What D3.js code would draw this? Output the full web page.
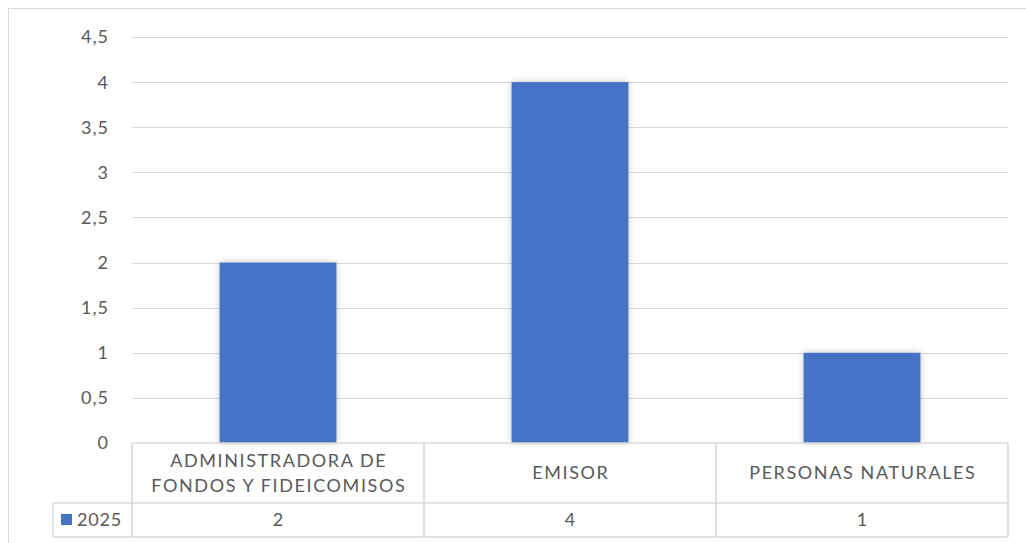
<!DOCTYPE html>
<html>
<head>
<meta charset="utf-8">
<script src="https://cdn.jsdelivr.net/npm/d3@7"></script>
<style>
  body { margin: 0; background: #fff; }
  text { font-family: Lato, "Noto Sans", sans-serif; fill: #595959; }
</style>
</head>
<body>
<div id="chart"></div>
<script>
// chart data
var aCategories = ["ADMINISTRADORA DE FONDOS Y FIDEICOMISOS", "EMISOR", "PERSONAS NATURALES"];
var aValues = [2, 4, 1];
var sSeries = "2025";
var aTicks = [0, 0.5, 1, 1.5, 2, 2.5, 3, 3.5, 4, 4.5];

var iWidth = 1026;
var iHeight = 543;
var iLeft = 132, iRight = 1008, iTop = 37, iBase = 443;
var iRow1 = 503, iRow2 = 537, iLegendX = 53;
var sGrid = "#d9d9d9";
var sBlue = "#4472C4";

var fmt = d3.formatLocale({decimal: ",", thousands: ".", grouping: [3], currency: ["", ""]}).format("~g");

var svg = d3.select("#chart").append("svg")
	.attr("width", iWidth)
	.attr("height", iHeight);

var defs = svg.append("defs");
var filt = defs.append("filter").attr("id", "shadow")
	.attr("x", "-20%").attr("y", "-20%").attr("width", "140%").attr("height", "140%");
filt.append("feDropShadow")
	.attr("dx", 0).attr("dy", 0).attr("stdDeviation", 3)
	.attr("flood-color", "#000").attr("flood-opacity", 0.25);

// outer chart border
svg.append("rect")
	.attr("x", 8.5).attr("y", 8.5)
	.attr("width", iWidth + 20).attr("height", iHeight + 20)
	.attr("fill", "none").attr("stroke", sGrid).attr("stroke-width", 1);

var xScale = d3.scaleBand().domain(aCategories).range([iLeft, iRight])
	.paddingInner(0.6).paddingOuter(0.3);
var yScale = d3.scaleLinear().domain([0, 4.5]).range([iBase, iTop]);

// gridlines
svg.append("g").selectAll("line")
	.data(aTicks.filter(function(t) { return t > 0; }))
	.enter().append("line")
		.attr("x1", iLeft).attr("x2", iRight)
		.attr("y1", function(t) { return Math.round(yScale(t)) + 0.5; })
		.attr("y2", function(t) { return Math.round(yScale(t)) + 0.5; })
		.attr("stroke", sGrid).attr("stroke-width", 1.2);

// y tick labels
svg.append("g").selectAll("text")
	.data(aTicks)
	.enter().append("text")
		.attr("x", 109)
		.attr("y", function(t) { return yScale(t); })
		.attr("dy", "0.36em")
		.attr("text-anchor", "end")
		.style("font-size", "18px")
		.style("letter-spacing", "1px")
		.text(function(t) { return fmt(t); });

// bars
svg.append("g").selectAll("rect")
	.data(aValues)
	.enter().append("rect")
		.attr("x", function(d, i) { return xScale(aCategories[i]); })
		.attr("width", xScale.bandwidth())
		.attr("y", function(d) { return yScale(d); })
		.attr("height", function(d) { return iBase - yScale(d); })
		.attr("fill", sBlue)
		.attr("filter", "url(#shadow)");

// data table lines
var gTable = svg.append("g").attr("stroke", sGrid).attr("stroke-width", 1.6);
gTable.append("line").attr("x1", iLeft).attr("x2", iRight).attr("y1", iBase).attr("y2", iBase);
gTable.append("line").attr("x1", iLegendX).attr("x2", iRight).attr("y1", iRow1).attr("y2", iRow1);
gTable.append("line").attr("x1", iLegendX).attr("x2", iRight).attr("y1", iRow2).attr("y2", iRow2);
gTable.append("line").attr("x1", iLegendX).attr("x2", iLegendX).attr("y1", iRow1).attr("y2", iRow2);
var aCols = aCategories.map(function(c) { return xScale(c) - xScale.step() * xScale.paddingInner() / 2; });
aCols.push(iRight);
gTable.selectAll(".col").data(aCols).enter().append("line")
	.attr("x1", function(d) { return d; }).attr("x2", function(d) { return d; })
	.attr("y1", iBase).attr("y2", iRow2);

// category labels, wrapped
var gCat = svg.append("g");
aCategories.forEach(function(sCat) {
	var cx = xScale(sCat) + xScale.bandwidth() / 2;
	var t = gCat.append("text").attr("text-anchor", "middle")
		.style("font-size", "18px").style("letter-spacing", "1.6px");
	var aWords = sCat.split(" ");
	var aLines = [];
	var sLine = "";
	aWords.forEach(function(w) {
		var sTry = sLine ? sLine + " " + w : w;
		t.text(sTry);
		if (t.node().getComputedTextLength() > 270 && sLine) {
			aLines.push(sLine);
			sLine = w;
		} else {
			sLine = sTry;
		}
	});
	aLines.push(sLine);
	t.text(null);
	var iLineH = 25;
	var y0 = (iBase + iRow1) / 2 - (aLines.length - 1) * iLineH / 2;
	aLines.forEach(function(l, i) {
		t.append("tspan").attr("x", cx + 0.8).attr("y", y0 + i * iLineH).attr("dy", "0.36em").text(l);
	});
});

// values row
svg.append("g").selectAll("text")
	.data(aValues)
	.enter().append("text")
		.attr("x", function(d, i) { return xScale(aCategories[i]) + xScale.bandwidth() / 2; })
		.attr("y", (iRow1 + iRow2) / 2)
		.attr("dy", "0.36em")
		.attr("text-anchor", "middle")
		.style("font-size", "18px")
		.text(function(d) { return d; });

// legend key
svg.append("rect").attr("x", 61).attr("y", 514).attr("width", 11).attr("height", 11).attr("fill", sBlue);
svg.append("text").attr("x", 77).attr("y", (iRow1 + iRow2) / 2).attr("dy", "0.36em")
	.style("font-size", "18px").style("letter-spacing", "0.8px").text(sSeries);
</script>
</body>
</html>
